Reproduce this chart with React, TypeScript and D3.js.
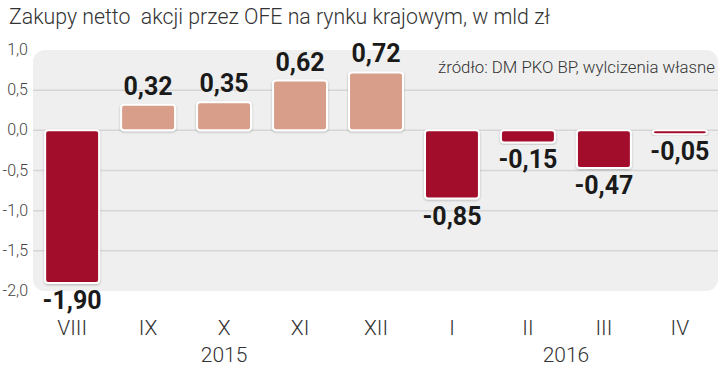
import React from "react";
import * as d3 from "d3";

const months = ["VIII", "IX", "X", "XI", "XII", "I", "II", "III", "IV"];
const values = [-1.9, 0.32, 0.35, 0.62, 0.72, -0.85, -0.15, -0.47, -0.05];
const valueLabels = ["-1,90", "0,32", "0,35", "0,62", "0,72", "-0,85", "-0,15", "-0,47", "-0,05"];
const yTicks = [1.0, 0.5, 0.0, -0.5, -1.0, -1.5, -2.0];
const yTickLabels = ["1,0", "0,5", "0,0", "-0,5", "-1,0", "-1,5", "-2,0"];
const years = [
  { label: "2015", from: "VIII", to: "XII" },
  { label: "2016", from: "I", to: "IV" },
];
const title = "Zakupy netto  akcji przez OFE na rynku krajowym, w mld zł";
const source = "źródło: DM PKO BP, wylcizenia własne";

const W = 720;
const H = 370;
const panel = { x0: 33, x1: 718, y0: 50, y1: 291 };
const font = "Roboto, 'Noto Sans', sans-serif";

export default function App() {
  const y = d3.scaleLinear().domain([-2, 1]).range([panel.y1, panel.y0]);
  const x = d3
    .scaleBand<string>()
    .domain(months)
    .range([33, 719])
    .paddingInner(0.29)
    .paddingOuter(0.16);
  const bw = x.bandwidth();

  return (
    <svg width={W} height={H} style={{ position: "absolute", left: 0, top: 0, background: "#fff" }}>
      <defs>
        <filter id="sh" x="-20%" y="-20%" width="140%" height="140%">
          <feDropShadow dx="0" dy="1" stdDeviation="1" floodColor="#000" floodOpacity="0.25" />
        </filter>
      </defs>
      <text x={9} y={24} fontFamily={font} fontSize={22} fontWeight={300} fill="#333" textLength={541} lengthAdjust="spacingAndGlyphs" style={{ whiteSpace: "pre" }}>
        {title}
      </text>
      <rect x={panel.x0} y={panel.y0} width={panel.x1 - panel.x0} height={panel.y1 - panel.y0} rx={12} fill="#efefef" />
      {yTicks.map((t, i) =>
        t > -2 && t < 1 ? (
          <line key={"g" + i} x1={panel.x0} x2={panel.x1} y1={y(t)} y2={y(t)} stroke="#d6d6d6" strokeWidth={1.5} />
        ) : null
      )}
      {yTicks.map((t, i) => (
        <text key={"yt" + i} x={28} y={y(t) + 5} textAnchor="end" fontFamily={font} fontWeight={300} fontSize={16} fill="#444">
          {yTickLabels[i]}
        </text>
      ))}
      <text x={715} y={73} textAnchor="end" fontFamily={font} fontWeight={300} fontSize={16.5} fill="#333" textLength={277} lengthAdjust="spacingAndGlyphs">
        {source}
      </text>
      {values.map((v, i) => {
        const m = months[i];
        const top = y(Math.max(0, v));
        const bot = y(Math.min(0, v));
        const h = Math.max(bot - top, 1.5);
        return (
          <g key={"b" + i}>
            <rect
              x={x(m)!}
              y={top}
              width={bw}
              height={h}
              rx={3}
              fill={v < 0 ? "#a10d2b" : "#d99e89"}
              stroke="#fff"
              strokeWidth={2}
              filter="url(#sh)"
            />
            <text
              x={x(m)! + bw / 2}
              y={v >= 0 ? top - 10 : bot + 26}
              textAnchor="middle"
              fontFamily={font}
              fontWeight={700}
              fontSize={25}
              fill="#1a1a1a"
            >
              {valueLabels[i]}
            </text>
            <text x={x(m)! + bw / 2} y={335} textAnchor="middle" fontFamily={font} fontWeight={300} fontSize={21} fill="#333">
              {m}
            </text>
          </g>
        );
      })}
      {years.map((yr) => {
        const cx = (x(yr.from)! + x(yr.to)! + bw) / 2;
        return (
          <text key={yr.label} x={cx} y={362} textAnchor="middle" fontFamily={font} fontWeight={300} fontSize={21} fill="#333">
            {yr.label}
          </text>
        );
      })}
    </svg>
  );
}
